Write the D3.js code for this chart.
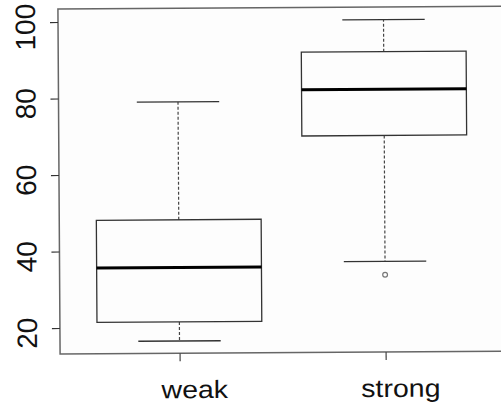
<!DOCTYPE html>
<html>
<head>
<meta charset="utf-8">
<script src="https://cdn.jsdelivr.net/npm/d3@7"></script>
<style>
  body { margin: 0; background: #fff; }
  text { font-family: "Liberation Sans", Arial, Helvetica, sans-serif; fill: #111; }
</style>
</head>
<body>
<div id="chart"></div>
<script>
// box stats
let groups = ["weak", "strong"];
let lowerWhisker = [16.4, 36.9];
let q1 = [21.4, 69.8];
let median = [35.6, 81.9];
let q3 = [48.1, 91.7];
let upperWhisker = [78.9, 100.1];
let outliers = [[], [33.4]];
let yTicks = [20, 40, 60, 80, 100];

let width = 501,
height = 403,
frameTop = 9,
frameBottom = 354;

let boxes = groups.map((g, i) => ({
    name: g, pos: i + 1,
    lo: lowerWhisker[i], q1: q1[i], med: median[i], q3: q3[i], hi: upperWhisker[i],
    out: outliers[i]
}));

let x = d3.scaleLinear()
.domain([0.42, 2.58])
.range([59, 504]);

let y = d3.scaleLinear()
.domain([20, 100])
.range([328, 22]);

let boxWex = 0.8;

let svg = d3.select("#chart").append("svg")
.attr("width", width)
.attr("height", height);

// the original is a little tilted
let g = svg.append("g")
.attr("transform", "rotate(-0.36, 58, 180)");

// plot frame
g.append("rect")
.attr("x", x.range()[0])
.attr("y", frameTop)
.attr("width", x.range()[1] - x.range()[0])
.attr("height", frameBottom - frameTop)
.attr("fill", "#fdfdfd")
.attr("stroke", "#666")
.attr("stroke-width", 1.5);

// y axis
let yAxis = d3.axisLeft(y).tickValues(yTicks).tickSize(8).tickFormat("");
g.append("g")
.attr("transform", "translate(" + x.range()[0] + ",0)")
.call(yAxis)
.call(a => a.select(".domain").remove())
.selectAll("line").attr("stroke", "#333").attr("stroke-width", 1.2);

g.selectAll(".ylab")
.data(yTicks)
.enter()
.append("text")
.attr("class", "ylab")
.attr("transform", d => "translate(36," + (y(d) + 5) + ") rotate(-90)")
.attr("text-anchor", "middle")
.style("font-size", "28px")
.text(d => d);

// x axis
let xAxis = d3.axisBottom(x).tickValues(boxes.map(d => d.pos)).tickSize(8).tickFormat("");
g.append("g")
.attr("transform", "translate(0," + frameBottom + ")")
.call(xAxis)
.call(a => a.select(".domain").remove())
.selectAll("line").attr("stroke", "#444").attr("stroke-width", 1.2);

g.selectAll(".xlab")
.data(boxes)
.enter()
.append("text")
.attr("class", "xlab")
.attr("transform", d => "translate(" + (x(d.pos) + 15) + ",399) scale(1.14,1)")
.attr("text-anchor", "middle")
.style("font-size", "25px")
.text(d => d.name);

let bw = x(boxWex) - x(0);

let box = g.selectAll(".box")
.data(boxes)
.enter()
.append("g")
.classed("box", true);

// whiskers
box.append("line")
.attr("x1", d => x(d.pos)).attr("x2", d => x(d.pos))
.attr("y1", d => y(d.q3)).attr("y2", d => y(d.hi))
.attr("stroke", "#444").attr("stroke-width", 1.2)
.attr("stroke-dasharray", "3,2");

box.append("line")
.attr("x1", d => x(d.pos)).attr("x2", d => x(d.pos))
.attr("y1", d => y(d.q1)).attr("y2", d => y(d.lo))
.attr("stroke", "#444").attr("stroke-width", 1.2)
.attr("stroke-dasharray", "3,2");

// staples
["lo", "hi"].forEach(k => {
    box.append("line")
    .attr("x1", d => x(d.pos) - bw / 4).attr("x2", d => x(d.pos) + bw / 4)
    .attr("y1", d => y(d[k])).attr("y2", d => y(d[k]))
    .attr("stroke", "#333").attr("stroke-width", 1.3);
});

box.append("rect")
.attr("x", d => x(d.pos) - bw / 2)
.attr("y", d => y(d.q3))
.attr("width", bw)
.attr("height", d => y(d.q1) - y(d.q3))
.attr("fill", "none")
.attr("stroke", "#333")
.attr("stroke-width", 1.3);

box.append("line")
.attr("x1", d => x(d.pos) - bw / 2).attr("x2", d => x(d.pos) + bw / 2)
.attr("y1", d => y(d.med)).attr("y2", d => y(d.med))
.attr("stroke", "#000").attr("stroke-width", 3);

box.selectAll(".out")
.data(d => d.out.map(v => ({pos: d.pos, v: v})))
.enter()
.append("circle")
.attr("cx", d => x(d.pos))
.attr("cy", d => y(d.v))
.attr("r", 2.4)
.attr("fill", "none")
.attr("stroke", "#777")
.attr("stroke-width", 1.2);
</script>
</body>
</html>
